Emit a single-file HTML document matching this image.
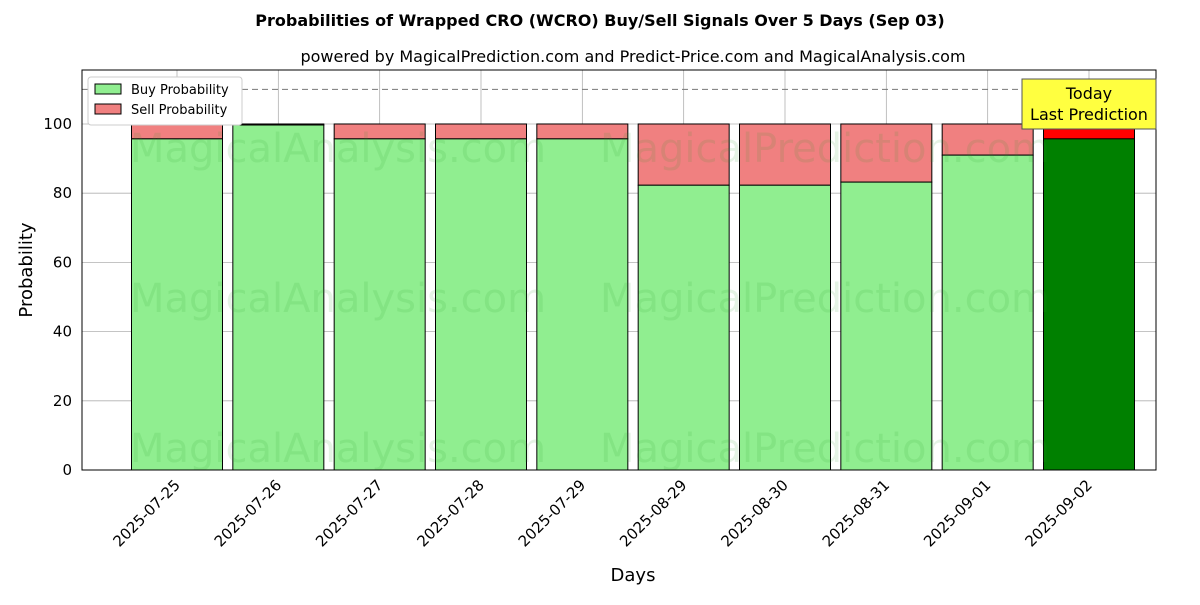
<!DOCTYPE html>
<html><head><meta charset="utf-8"><style>
body{margin:0;background:#fff;font-family:"Liberation Sans","DejaVu Sans",sans-serif}
</style></head><body>
<svg width="1200" height="600" xmlns="http://www.w3.org/2000/svg" font-family="DejaVu Sans, Liberation Sans, sans-serif">
<rect width="1200" height="600" fill="#fff"/>
<text x="600" y="26" text-anchor="middle" font-size="16" font-weight="bold">Probabilities of Wrapped CRO (WCRO) Buy/Sell Signals Over 5 Days (Sep 03)</text>
<text x="633" y="62" text-anchor="middle" font-size="16">powered by MagicalPrediction.com and Predict-Price.com and MagicalAnalysis.com</text>
<g id="grid"></g>
<g id="bars"></g>
<g fill="#2ca02c" fill-opacity="0.12" font-size="40">
<text x="130" y="162">MagicalAnalysis.com</text><text x="600" y="162">MagicalPrediction.com</text>
<text x="130" y="312">MagicalAnalysis.com</text><text x="600" y="312">MagicalPrediction.com</text>
<text x="130" y="462">MagicalAnalysis.com</text><text x="600" y="462">MagicalPrediction.com</text>
</g>
<line x1="82" x2="1156" y1="89.4" y2="89.4" stroke="#777" stroke-dasharray="6,4"/>
<rect x="82" y="70" width="1074" height="400" fill="none" stroke="#000"/>
<g id="ticks" font-size="15"></g>
<text x="633" y="581" text-anchor="middle" font-size="18">Days</text>
<text x="32" y="270" text-anchor="middle" font-size="18" transform="rotate(-90 32 270)">Probability</text>
<g>
<rect x="88" y="77" width="154" height="48" fill="#fff" stroke="#ccc" rx="3"/>
<rect x="95" y="84" width="26" height="10" fill="#90ee90" stroke="#000"/>
<text x="131" y="94" font-size="13">Buy Probability</text>
<rect x="95" y="104" width="26" height="10" fill="#f08080" stroke="#000"/>
<text x="131" y="114" font-size="13">Sell Probability</text>
</g>
<g>
<rect x="1022" y="79" width="134" height="50" fill="#ffff40" stroke="#555"/>
<text x="1089" y="99" text-anchor="middle" font-size="16">Today</text>
<text x="1089" y="120" text-anchor="middle" font-size="16">Last Prediction</text>
</g>
</svg>
<script>
const categories=["2025-07-25","2025-07-26","2025-07-27","2025-07-28","2025-07-29","2025-08-29","2025-08-30","2025-08-31","2025-09-01","2025-09-02"];
const buyValues=[95.7,99.7,95.7,95.7,95.7,82.3,82.3,83.2,91.0,95.7];
const yTicks=[0,20,40,60,80,100];
const NS="http://www.w3.org/2000/svg";
const x0=82,x1=1156,yb=470,yt=70,ymax=115.6;
const xs=i=>177+(i)*(1089-177)/(categories.length-1);
const ys=v=>yb-v*(yb-yt)/ymax;
function mk(t,a,p){const e=document.createElementNS(NS,t);for(const k in a)e.setAttribute(k,a[k]);p.appendChild(e);return e;}
const grid=document.getElementById('grid'),bars=document.getElementById('bars'),ticks=document.getElementById('ticks');
yTicks.forEach(v=>{
 const l=mk('line',{x1:x0,x2:x1,y1:ys(v),y2:ys(v),stroke:'#b0b0b0','stroke-width':0.8},grid);
 
 
 const t=mk('text',{x:72,y:ys(v)+5,'text-anchor':'end'},ticks);t.textContent=v;
 
 
});
const bw=91;
categories.forEach((c,i)=>{
 const cx=xs(i);
 const g=mk('line',{x1:cx,x2:cx,y1:yt,y2:yb,stroke:'#b0b0b0','stroke-width':0.8},grid);
 
 
 const last=i===categories.length-1;
 const b=buyValues[i];
 const s=mk('rect',{x:cx-bw/2,y:ys(100),width:bw,height:ys(b)-ys(100),fill:last?'#ff0000':'#f08080',stroke:'#000'},bars);
 
 
 const r=mk('rect',{x:cx-bw/2,y:ys(b),width:bw,height:yb-ys(b),fill:last?'#008000':'#90ee90',stroke:'#000'},bars);
 
 
 const t=mk('text',{x:cx+4,y:486,'text-anchor':'end',transform:`rotate(-45 ${cx+4} 486)`},ticks);t.textContent=c;
 
 
});
</script>
</body></html>
